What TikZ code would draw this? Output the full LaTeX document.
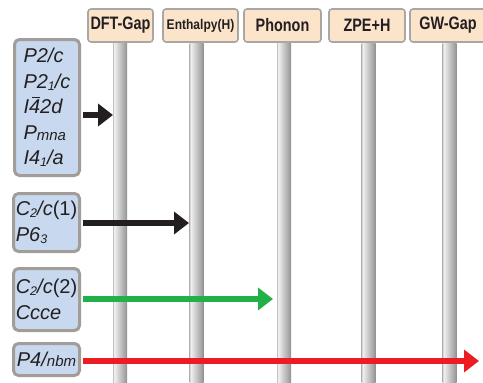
\documentclass[tikz,border=0pt]{standalone}
\usepackage{fontspec}
\usepackage{graphicx}
\setmainfont{Liberation Sans}
\usetikzlibrary{arrows.meta}

\definecolor{headfill}{HTML}{FCE4CB}
\definecolor{headline}{HTML}{A9A6A3}
\definecolor{boxfill}{HTML}{C8D9EF}
\definecolor{boxline}{HTML}{A29D99}
\definecolor{ink}{HTML}{231F20}
\definecolor{arrgreen}{HTML}{22B04B}
\definecolor{arrred}{HTML}{ED1C24}
\definecolor{arrblack}{HTML}{231F20}
\definecolor{poleA}{HTML}{C2C2C2}
\definecolor{poleB}{HTML}{F2F2F2}
\definecolor{poleC}{HTML}{D6D6D6}
\definecolor{poleD}{HTML}{A2A2A2}
\definecolor{poleE}{HTML}{8E8E8E}

% metallic look of the vertical bars
\pgfdeclarehorizontalshading{polesh}{100bp}{%
  color(0bp)=(poleA); color(25bp)=(poleA); color(29bp)=(poleB);
  color(42bp)=(poleC); color(68bp)=(poleD); color(75bp)=(poleE);
  color(100bp)=(poleE)}

% small index of a space-group symbol
\newcommand{\lowsub}[1]{\raisebox{-2pt}{\fontsize{12.5}{12.5}\selectfont #1}}
\newcommand{\grpsub}[1]{\raisebox{-1.5pt}{\fontsize{15}{15}\selectfont #1}}
% digit with a bar above it (roto-inversion axis)
\newcommand{\bardigit}[1]{\makebox[0pt][l]{\hspace{3.2pt}\rule[15.6pt]{8pt}{1.3pt}}#1}
% condensed bold header text
\newcommand{\hd}[2][0.8]{\scalebox{#1}[1]{#2}}

\tikzset{
  headbox/.style={draw=headline, line width=1.6pt, fill=headfill,
    rounded corners=3pt, minimum height=33pt, inner sep=0pt, text=ink,
    font=\bfseries\fontsize{18}{18}\selectfont},
  grpbox/.style={draw=boxline, line width=3pt, fill=boxfill,
    rounded corners=5pt, inner sep=0pt, align=left, text=ink,
    font=\itshape\fontsize{20}{25.5}\selectfont},
  flow/.style={line width=5.5pt, shorten <=2pt,
    -{Triangle[length=15pt,width=22pt]}},
}

\begin{document}
\begin{tikzpicture}[x=1pt,y=-1pt]
\clip (0,0) rectangle (483,383);

% vertical bars
\foreach \px in {120,196.5,284,368.5,449.5}
  \shade[shading=polesh] (\px-7,43) rectangle (\px+7,383);

% column headers
\node[headbox, minimum width=65pt] (hdft) at (120.5,25.5) {\hd{DFT-Gap}};
\node[headbox, minimum width=75pt, font=\bfseries\fontsize{14}{14}\selectfont]
  (hent) at (200.5,25.5) {\hd[0.86]{Enthalpy(H)}};
\node[headbox, minimum width=77pt] (hpho) at (282.5,25.5) {\hd{Phonon}};
\node[headbox, minimum width=76pt] (hzpe) at (367,25.5) {\hd{ZPE+H}};
\node[headbox, minimum width=76pt] (hgw) at (448,25.5) {\hd{GW-Gap}};

% groups of space groups
\node[grpbox, minimum width=65pt, minimum height=136pt] (b1) at (47,107.5)
  {P2/c\\ P2\lowsub{1}/c\\ I\bardigit{4}2d\\ P\grpsub{mna}\\ I4\lowsub{1}/a};
\node[grpbox, minimum width=66pt, minimum height=58pt] (b2) at (46.5,222.5)
  {C\lowsub{2}/c\upshape(1)\\ P6\lowsub{3}};
\node[grpbox, minimum width=66pt, minimum height=62pt] (b3) at (46.5,299.5)
  {C\lowsub{2}/c\upshape(2)\\ Ccce};
\node[grpbox, minimum width=66pt, minimum height=32pt] (b4) at (46.5,359.5)
  {P4/{\fontsize{15}{15}\selectfont nbm}};

% how far each group gets
\coordinate (t1) at (113,115);
\coordinate (t2) at (189,223);
\coordinate (t3) at (273,299);
\coordinate (t4) at (479,361);
\draw[flow, arrblack] (b1.east |- t1) -- (t1);
\draw[flow, arrblack] (b2.east |- t2) -- (t2);
\draw[flow, arrgreen] (b3.east |- t3) -- (t3);
\draw[flow, arrred] (b4.east |- t4) -- (t4);
\end{tikzpicture}
\end{document}
